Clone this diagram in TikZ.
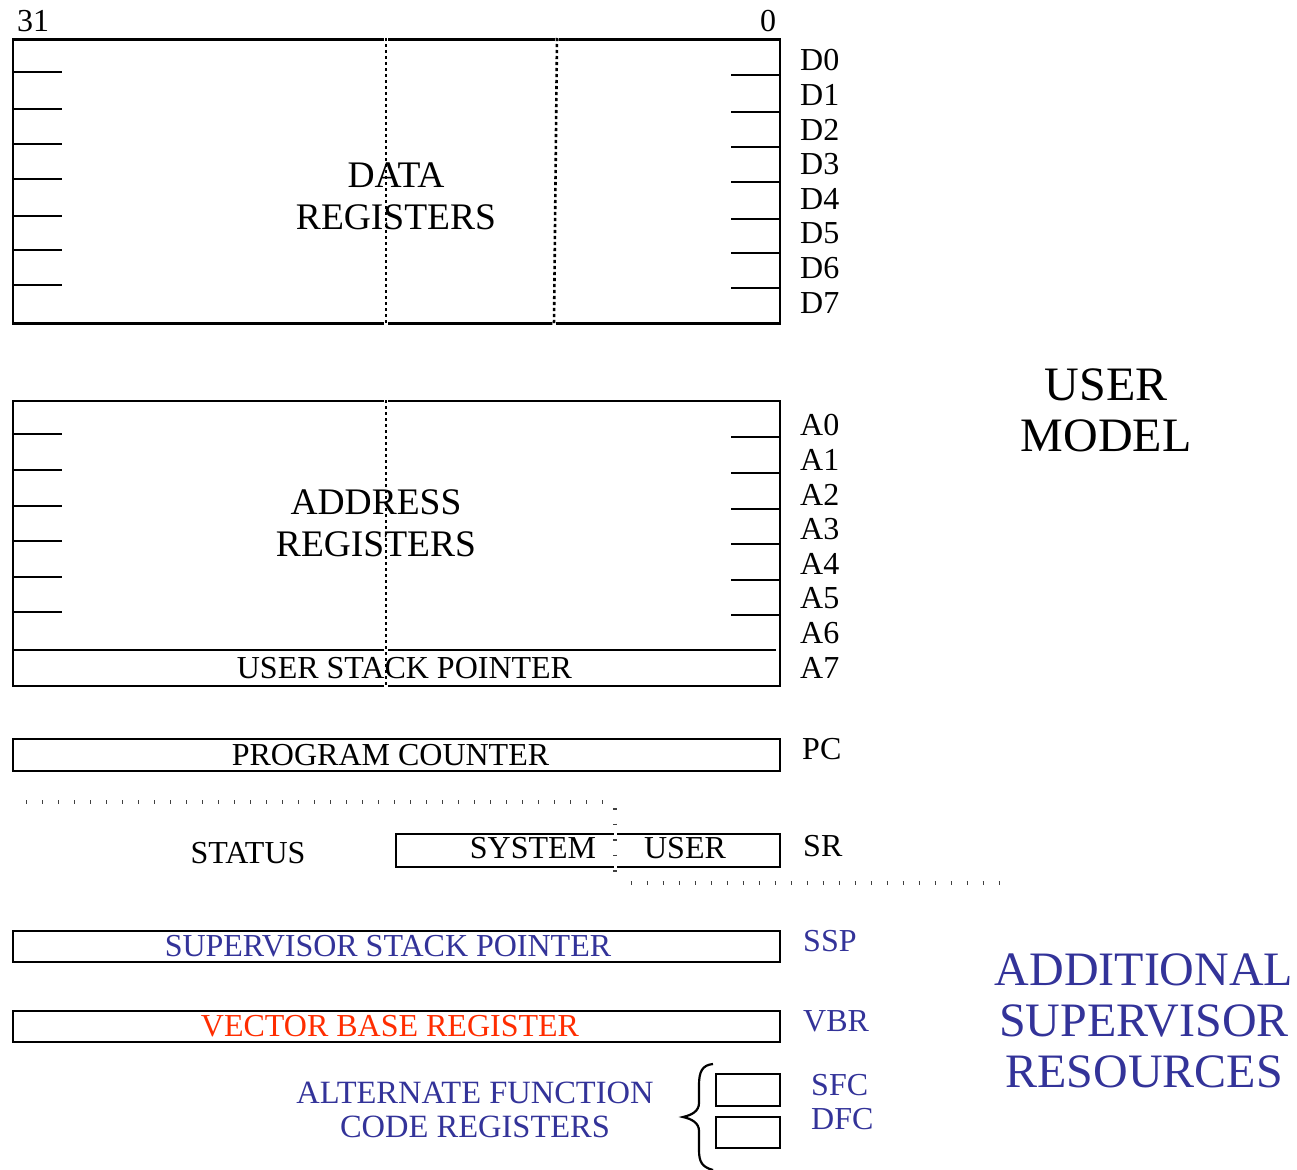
\documentclass[tikz,border=0pt]{standalone}
\usepackage{fontspec}
\setmainfont{Liberation Serif}
\definecolor{supblue}{RGB}{51,51,153}
\definecolor{vbrred}{RGB}{255,45,0}
\begin{document}
\begin{tikzpicture}[x=1pt,y=-1pt,
  regbox/.style={draw,line width=2.6pt,rectangle,inner sep=0pt},
  lbl/.style={inner sep=0pt,font=\fontsize{32}{34}\selectfont},
  rlbl/.style={lbl,anchor=west},
  big/.style={inner sep=0pt,align=center,font=\fontsize{37.5}{41.5}\selectfont},
  huge/.style={inner sep=0pt,align=center,font=\fontsize{48}{51}\selectfont},
  tickline/.style={line width=2.6pt},
  sepunder/.style={white,line width=3.5pt},
  sepline/.style={line width=2.6pt,dash pattern=on 3.2pt off 2.8pt},
  dotrow/.style={black!75,line width=3.5pt,dash pattern=on 1.4pt off 14.6pt},
  dotcol/.style={black!75,line width=4pt,dash pattern=on 1.6pt off 13.9pt}
]
\useasboundingbox (0,0) rectangle (1297,1169);

% bit numbers
\node[lbl] (b31) at (33,21) {31};
\node[lbl] (b0) at (768,21) {0};

% data registers
\node[regbox,minimum width=767pt,minimum height=284pt] (data) at (396.5,181.5) {};
\foreach \y in {72,109,144,179,216,250,285} \draw[tickline] (13,\y) -- (62,\y);
\foreach \y in {75,112,147,182,219,253,288} \draw[tickline] (731,\y) -- (780,\y);
\draw[sepunder] (386,38) -- (386,325);
\draw[sepunder] (557,38) -- (554,325);
\node[big] (datatxt) at (396,196.3) {DATA\\REGISTERS};
\draw[sepline] (386,38) -- (386,325);
\draw[sepline] (557,38) -- (554,325);
\foreach \n [count=\i from 0] in {D0,D1,D2,D3,D4,D5,D6,D7}
  \node[rlbl] (d\i) at (800,60.5+34.6*\i) {\n};

% user model
\node[huge] (usermodel) at (1106,410) {USER\\MODEL};

% address registers
\node[regbox,minimum width=767pt,minimum height=285pt] (addr) at (396.5,543.5) {};
\foreach \y in {434,470,506,541,577,612} \draw[tickline] (13,\y) -- (62,\y);
\foreach \y in {437,473,509,544,580,615} \draw[tickline] (731,\y) -- (780,\y);
\draw[line width=2.6pt] (13,650) -- (776,650);
\draw[sepunder] (386,400) -- (386,687);
\node[big] (addrtxt) at (376,523.3) {ADDRESS\\REGISTERS};
\node[lbl] (usp) at (404.5,668) {USER STACK POINTER};
\draw[sepline] (386,400) -- (386,687);
\foreach \n [count=\i from 0] in {A0,A1,A2,A3,A4,A5,A6,A7}
  \node[rlbl] (a\i) at (800,425.5+34.6*\i) {\n};

% program counter
\node[regbox,minimum width=767pt,minimum height=32pt] (pcbox) at (396.5,755) {};
\node[lbl] (pctxt) at (390.5,755) {PROGRAM COUNTER};
\node[rlbl] (pc) at (802,749) {PC};

% status register
\draw[dotrow] (26,802) -- (615,802);
\node[regbox,minimum width=384pt,minimum height=33pt] (srbox) at (588,850.5) {};
\draw[white,line width=3pt] (615,832) -- (615,869);
\draw[dotcol] (615,808) -- (615,875);
\draw[dotrow] (630.5,883) -- (1002,883);
\node[lbl] (status) at (248,853) {STATUS};
\node[lbl] (system) at (533,848) {SYSTEM};
\node[lbl] (usertxt) at (685,848) {USER};
\node[rlbl] (sr) at (803,846) {SR};

% supervisor stack pointer
\node[regbox,minimum width=767pt,minimum height=31pt] (sspbox) at (396.5,946.5) {};
\node[lbl,text=supblue] (ssptxt) at (388,946) {SUPERVISOR STACK POINTER};
\node[rlbl,text=supblue] (ssp) at (803,941) {SSP};

% vector base register
\node[regbox,minimum width=767pt,minimum height=31pt] (vbrbox) at (396.5,1026.5) {};
\node[lbl,text=vbrred] (vbrtxt) at (390,1026) {VECTOR BASE REGISTER};
\node[rlbl,text=supblue] (vbr) at (803,1021) {VBR};

% alternate function code registers
\node[inner sep=0pt,align=center,text=supblue,font=\fontsize{32.5}{34}\selectfont] (altxt) at (475,1110) {ALTERNATE FUNCTION\\CODE REGISTERS};
\draw[line width=2.2pt] (713,1064) .. controls (702,1065) and (699,1072) .. (699,1085) -- (699,1103)
  .. controls (699,1111) and (692,1115) .. (683,1117)
  .. controls (692,1119) and (699,1123) .. (699,1131) -- (699,1150)
  .. controls (699,1162) and (702,1167) .. (713,1170);
\node[regbox,minimum width=64pt,minimum height=32pt] (sfcbox) at (748,1090) {};
\node[regbox,minimum width=64pt,minimum height=31pt] (dfcbox) at (748,1132.5) {};
\node[rlbl,text=supblue] (sfc) at (811,1085) {SFC};
\node[rlbl,text=supblue] (dfc) at (811,1119) {DFC};

% additional supervisor resources
\node[huge,text=supblue] (addsup) at (1144,1020.5) {ADDITIONAL\\SUPERVISOR\\RESOURCES};
\end{tikzpicture}
\end{document}
